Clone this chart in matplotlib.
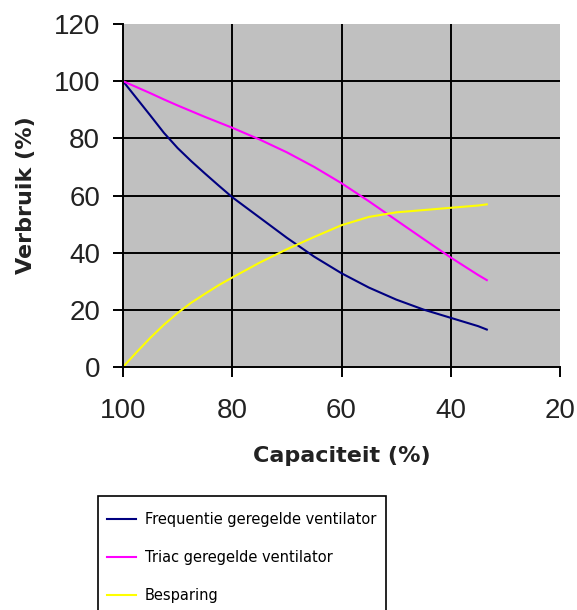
import matplotlib.pyplot as plt
from matplotlib.patches import Rectangle

# capacity (%) and consumption (%)
capaciteit = [100, 97.5, 95, 92.5, 90, 87.5, 85, 82.5, 80, 75, 70, 65, 60, 55, 50, 45, 40, 35, 33.4]
frequentie = [100, 94.0, 88.0, 81.9, 76.6, 72.0, 67.7, 63.5, 59.4, 52.3, 45.2, 38.6, 32.8, 27.8, 23.6, 20.1, 17.2, 14.3, 13.1]
triac = [100, 97.9, 95.8, 93.6, 91.5, 89.5, 87.5, 85.6, 83.7, 79.6, 75.1, 70.0, 64.3, 58.0, 51.4, 44.8, 38.3, 32.2, 30.4]
besparing = [0, 5.2, 10.2, 14.8, 18.9, 22.5, 25.6, 28.6, 31.3, 36.5, 41.2, 45.5, 49.6, 52.5, 54.1, 54.9, 55.7, 56.5, 56.9]

x_ticks = [100, 80, 60, 40, 20]
y_ticks = [0, 20, 40, 60, 80, 100, 120]

fig = plt.figure(figsize=(5.77, 6.10), dpi=100)
ax = fig.add_axes([123 / 577, 1 - 367 / 610, 437 / 577, 343 / 610])
ax.set_facecolor("#C0C0C0")

ax.plot(capaciteit, frequentie, color="#000080", lw=1.5, label="Frequentie geregelde ventilator")
ax.plot(capaciteit, triac, color="#FF00FF", lw=1.5, label="Triac geregelde ventilator")
ax.plot(capaciteit, besparing, color="#FFFF00", lw=1.5, label="Besparing")

ax.set_xlim(100, 20)
ax.set_ylim(0, 120)
ax.set_xticks(x_ticks)
ax.set_yticks(y_ticks)

ax.grid(True, color="black", lw=1.4)
ax.set_axisbelow(True)
ax.xaxis.get_gridlines()[0].set_visible(False)
ax.xaxis.get_gridlines()[-1].set_visible(False)
ax.yaxis.get_gridlines()[0].set_visible(False)
ax.yaxis.get_gridlines()[-1].set_visible(False)

for side in ["top", "right"]:
    ax.spines[side].set_visible(False)
for side in ["left", "bottom"]:
    ax.spines[side].set_linewidth(1.4)

ax.tick_params(axis="both", direction="out", length=7.5, width=1.4, labelsize=20)
ax.tick_params(axis="x", pad=15)
ax.tick_params(axis="y", pad=9)
for lab in ax.get_xticklabels() + ax.get_yticklabels():
    lab.set_fontfamily("Liberation Sans")
    lab.set_color("#222222")

ax.set_xlabel("Capaciteit (%)", fontsize=16, fontweight="bold", labelpad=16, color="#222222")
ax.set_ylabel("Verbruik (%)", fontsize=16, fontweight="bold", labelpad=13, color="#222222")

# legend box below the chart, cut by the bottom edge like the original
fig.patches.append(Rectangle((98 / 577, 1 - 620 / 610), 288 / 577, 124 / 610,
                             transform=fig.transFigure, facecolor="white",
                             edgecolor="black", lw=1.2, zorder=0))
handles, labels = ax.get_legend_handles_labels()
fig.legend(handles, labels, loc="upper left", bbox_to_anchor=(98 / 577, 1 - 503 / 610),
           frameon=False, fontsize=10.5, handlelength=2.0, handletextpad=0.6,
           labelspacing=1.6, borderpad=0.6, borderaxespad=0)

fig.savefig("out.png", dpi=100)
